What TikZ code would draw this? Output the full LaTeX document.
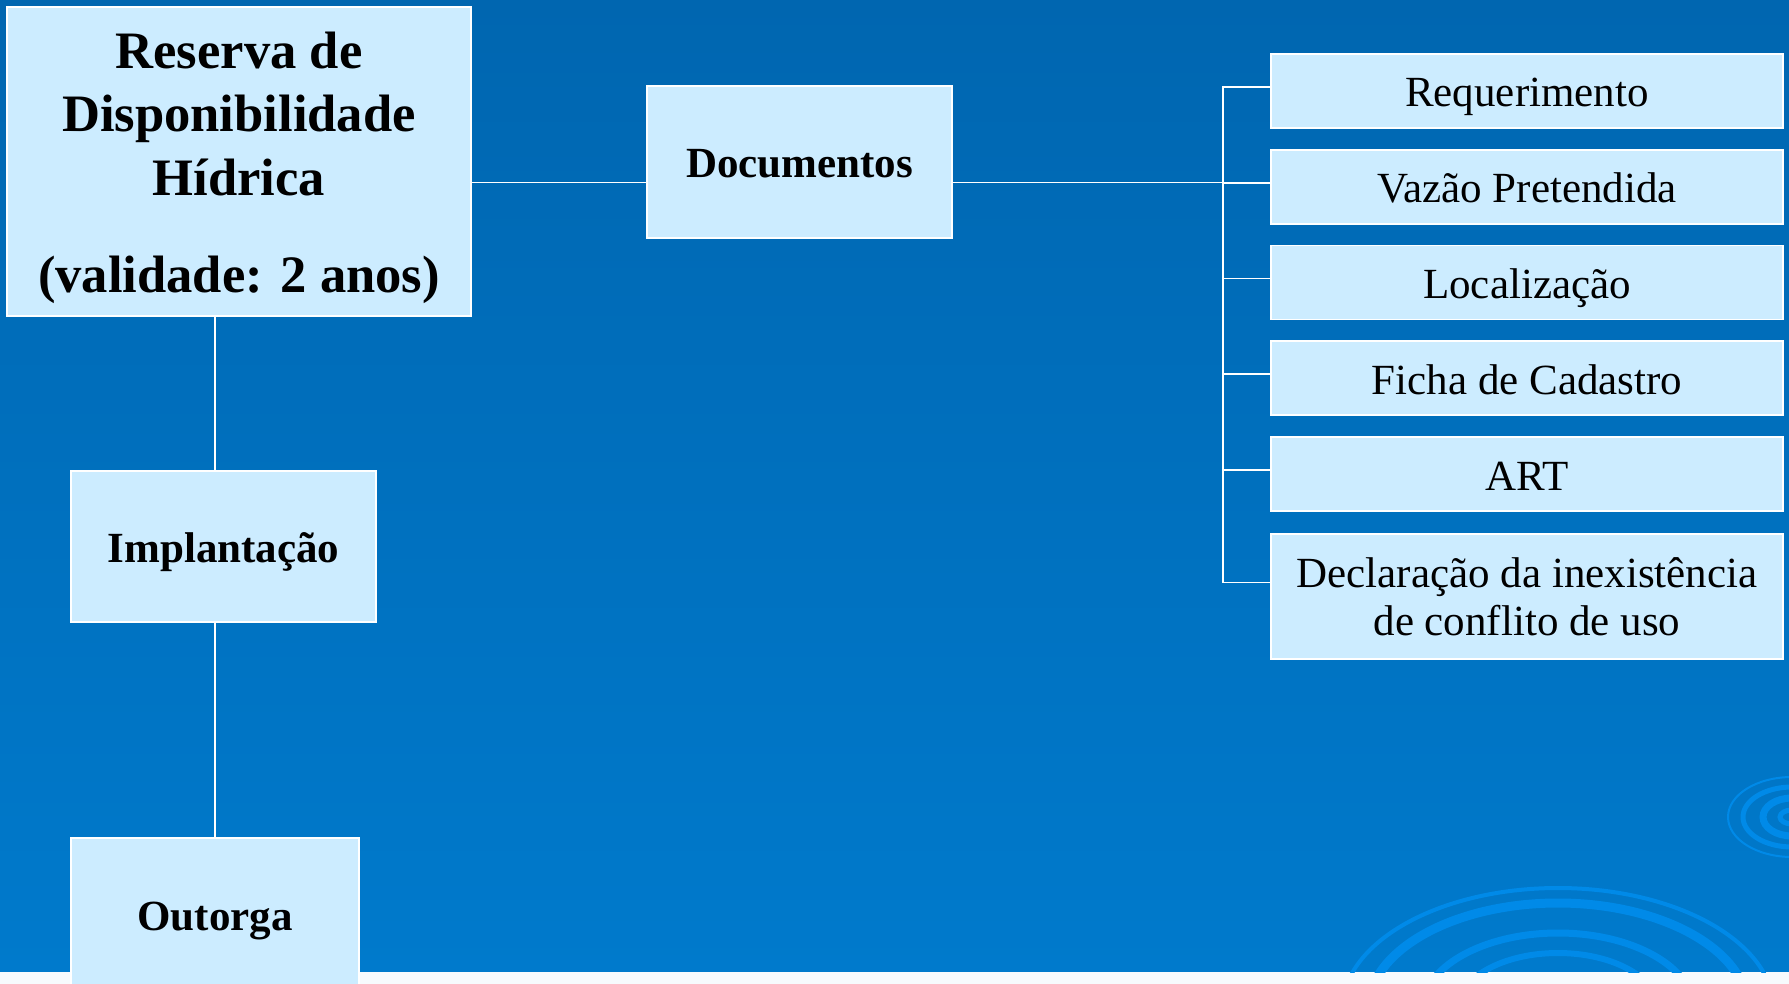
\documentclass[tikz,border=0pt]{standalone}
\usepackage{fontspec}
\setmainfont{Liberation Serif}
\usepackage{tikz}
\usetikzlibrary{calc}
\definecolor{slidetop}{RGB}{0,102,176}
\definecolor{slidebottom}{RGB}{0,122,204}
\definecolor{boxfill}{RGB}{204,236,255}
\definecolor{ripple}{RGB}{0,138,232}

\begin{document}
\begin{tikzpicture}[x=1pt,y=-1pt,
  box/.style={draw=white,line width=1.5pt,fill=boxfill,text=black,inner sep=0pt},
  onerow/.style={text height=34pt,text depth=2pt},
  plain/.style={font=\fontsize{43}{48}\selectfont},
  head/.style={font=\bfseries\fontsize{43}{48}\selectfont},
  item/.style={box,plain,minimum width=512pt,minimum height=74pt},
  link/.style={draw=white,line width=1.8pt}]
  \useasboundingbox (0,0) rectangle (1789,984);
  \clip (0,0) rectangle (1789,984);
  \shade[top color=slidetop,bottom color=slidebottom] (0,0) rectangle (1789,972);
  \fill[white!97!slidetop] (0,972) rectangle (1789,984);
  \begin{scope}
    \clip (0,0) rectangle (1789,972);
    \draw[ripple,line width=4pt] (1558,1010) ellipse [x radius=216,y radius=122];
    \draw[ripple,line width=9pt] (1558,1010) ellipse [x radius=190,y radius=107];
    \draw[ripple,line width=7pt] (1558,1010) ellipse [x radius=136,y radius=77];
    \draw[ripple,line width=6pt] (1558,1010) ellipse [x radius=101,y radius=57];
    \draw[ripple,line width=2pt] (1792,817) ellipse [x radius=64,y radius=40];
    \draw[ripple,line width=5pt] (1792,817) ellipse [x radius=49,y radius=30];
    \draw[ripple,line width=7pt] (1792,817) ellipse [x radius=29,y radius=19];
    \draw[ripple,line width=5pt] (1792,817) ellipse [x radius=12,y radius=7];
  \end{scope}

  \coordinate (spine) at (215,0);
  \coordinate (hub) at (1223,182.6);

  \node[box,minimum width=464pt,minimum height=309pt] (reserva) at (239,161.5) {};
  \node[font=\bfseries\fontsize{52.6}{63.3}\selectfont,align=center] (reservatxt) at (239,168)
    {Reserva de\\Disponibilidade\\Hídrica\\[34pt](validade: 2 anos)};
  \node[box,onerow,head,minimum width=305pt,minimum height=152pt] (documentos) at (799.5,162) {Documentos};
  \node[box,onerow,head,minimum width=305pt,minimum height=151pt] (implantacao) at (223.5,546.5) {Implantação};
  \node[box,onerow,head,minimum width=288pt,minimum height=152pt] (outorga) at (215,914) {Outorga};

  \node[item,onerow] (req) at (1527,91) {Requerimento};
  \node[item,onerow] (vazao) at (1527,187) {Vazão Pretendida};
  \node[item,onerow] (local) at (1527,282.5) {Localização};
  \node[item,onerow] (ficha) at (1527,378) {Ficha de Cadastro};
  \node[item,onerow] (art) at (1527,474) {ART};
  \node[item,align=center,minimum height=125pt] (decl) at (1527,596.5) {Declaração da inexistência\\de conflito de uso};

  \draw[link] (reserva.south -| spine) -- (implantacao.north -| spine);
  \draw[link] (implantacao.south -| spine) -- (outorga.north -| spine);
  \draw[link] (reserva.east |- hub) -- (documentos.west |- hub);
  \draw[link] (documentos.east |- hub) -- (hub);
  \draw[link] ($(req.west)+(0pt,4pt)$) -| (hub) |- ($(decl.west)+(0pt,14pt)$);
  \foreach \n in {vazao,local,ficha,art}
    \draw[link] ($(\n.west)+(0pt,4pt)$) -- ++(-48pt,0pt);
\end{tikzpicture}
\end{document}
